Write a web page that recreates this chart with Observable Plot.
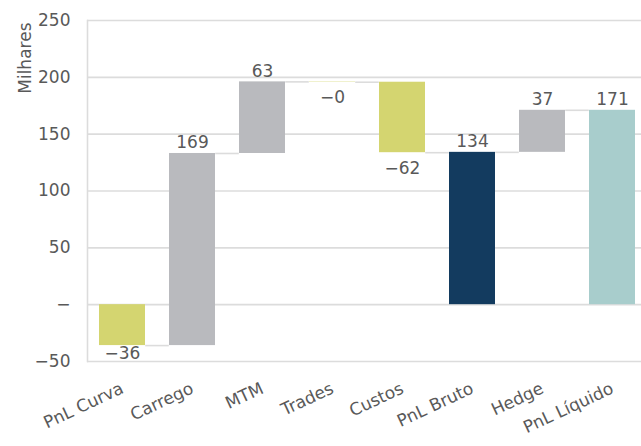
<!DOCTYPE html>
<html><head><meta charset="utf-8">
<script src="https://cdn.jsdelivr.net/npm/d3@7"></script>
<script src="https://cdn.jsdelivr.net/npm/@observablehq/plot@0.6"></script>
<style>html,body{margin:0;padding:0;background:#fff;overflow:hidden} svg{display:block;max-width:none !important}</style>
</head><body><div id="chart"></div>
<script>
// ---- data ----
const categories = ["PnL Curva", "Carrego", "MTM", "Trades", "Custos", "PnL Bruto", "Hedge", "PnL Líquido"];
const values = [-36, 169, 63, -0.3, -62, 134, 37, 171];
const isTotal = [false, false, false, false, false, true, false, true];
const totalColors = {"PnL Bruto": "#133b5f", "PnL Líquido": "#a8cdcc"};
const posColor = "#b9babe";
const negColor = "#d4d570";
const yTicks = [-50, 0, 50, 100, 150, 200, 250];
const yDomain = [-50, 250];
const yLabel = "Milhares";

// ---- layout ----
const W = 647, H = 446, mL = 87, mR = 0, mT = 20, mB = 85;
const padIn = 0.34, padOut = 0.17;
const step = (W - mL - mR) / (categories.length - padIn + 2 * padOut);
const bw = step * (1 - padIn);

// ---- waterfall rows ----
let run = 0;
const rows = categories.map((c, i) => {
  const v = values[i];
  let y1, y2;
  if (isTotal[i]) { y1 = 0; y2 = v; run = v; }
  else { const s = run; run = s + v; y1 = Math.min(s, run); y2 = Math.max(s, run); }
  const color = isTotal[i] ? totalColors[c] : (v < 0 ? negColor : posColor);
  return {cat: c, value: v, y1, y2, end: run, color, total: isTotal[i]};
});
const conns = rows.slice(0, -1).map((r, i) => ({from: r.cat, to: rows[i + 1].cat, y: r.end}));

const fmt = d => {
  const r = Math.round(Math.abs(d.value));
  return (d.value < 0 ? "\u2212" : "") + r;
};
const ups = rows.filter(d => d.value >= 0);
const downs = rows.filter(d => d.value < 0 && d.y1 > -30);
const downsLow = rows.filter(d => d.value < 0 && d.y1 <= -30);

const grey = "#dcdcdc";
const txt = "#595959";
const FS = 17;

const chart = Plot.plot({
  width: W, height: H,
  marginLeft: mL, marginRight: mR, marginTop: mT, marginBottom: mB,
  style: {fontFamily: "'DejaVu Sans', sans-serif", fontSize: FS + "px", color: txt, background: "#fff", overflow: "visible", maxWidth: "none"},
  x: {domain: categories, paddingInner: padIn, paddingOuter: padOut, align: 0.5, label: null},
  y: {domain: yDomain, label: null},
  color: {type: "identity"},
  marks: [
    Plot.gridY(yTicks, {stroke: grey, strokeOpacity: 1, strokeWidth: 1.6}),
    Plot.frame({anchor: "left", stroke: grey, strokeWidth: 1.6}),
    Plot.ruleY(conns, {x1: "from", x2: "to", y: "y", insetLeft: bw, insetRight: bw, stroke: grey, strokeWidth: 1.6}),
    Plot.barY(rows, {x: "cat", y1: "y1", y2: "y2", fill: "color"}),
    Plot.text(ups, {x: "cat", y: "y2", text: fmt, lineAnchor: "bottom", dy: -5, fill: txt, fontSize: FS}),
    Plot.text(downs, {x: "cat", y: "y1", text: fmt, lineAnchor: "top", dy: 9, fill: txt, fontSize: FS}),
    Plot.text(downsLow, {x: "cat", y: "y1", text: fmt, lineAnchor: "top", dy: 1, fill: txt, fontSize: FS}),
    Plot.axisY(yTicks, {tickSize: 0, tickPadding: 17, fontSize: FS, fill: txt, label: null,
      tickFormat: d => d === 0 ? "\u2212" : d < 0 ? "\u2212" + Math.abs(d) : String(d)}),
    Plot.axisX({tickSize: 0, tickRotate: -25, tickPadding: 26, fontSize: FS, fill: txt, label: null}),
    Plot.text([yLabel], {frameAnchor: "top-left", rotate: -90, textAnchor: "end", dx: -69, dy: 2, fontSize: FS, fill: txt})
  ]
});
document.getElementById("chart").appendChild(chart);
</script>
</body></html>
